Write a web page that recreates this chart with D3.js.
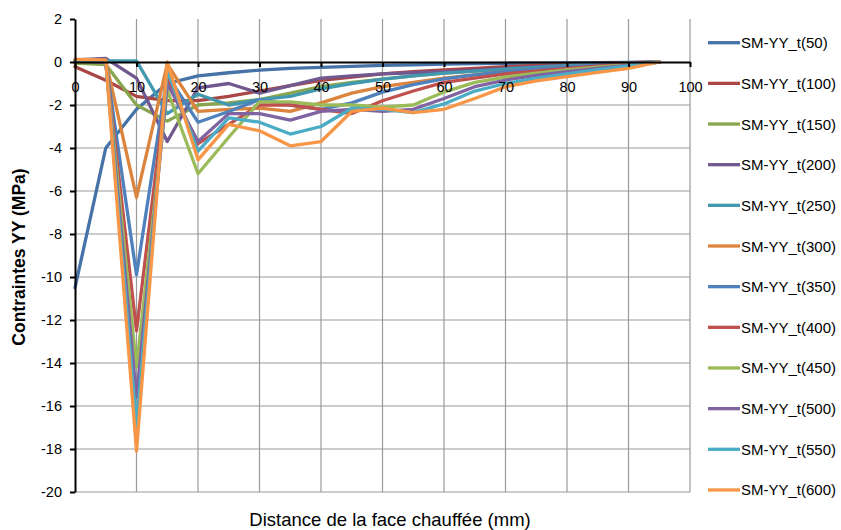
<!DOCTYPE html>
<html><head><meta charset="utf-8">
<script src="https://cdn.jsdelivr.net/npm/d3@7"></script>
<style>body{margin:0;background:#fff}svg{display:block}text{font-family:"Liberation Sans",Arial,sans-serif}</style>
</head><body><svg id="c" width="841" height="530"></svg>
<script>
const distances = [0,5,10,15,20,25,30,35,40,45,50,55,60,65,70,75,80,85,90,95];
const seriesNames = ["SM-YY_t(50)","SM-YY_t(100)","SM-YY_t(150)","SM-YY_t(200)","SM-YY_t(250)","SM-YY_t(300)","SM-YY_t(350)","SM-YY_t(400)","SM-YY_t(450)","SM-YY_t(500)","SM-YY_t(550)","SM-YY_t(600)"];
const t50  = [-10.5,-4.0,-2.2,-1.0,-0.65,-0.5,-0.38,-0.3,-0.25,-0.2,-0.16,-0.13,-0.1,-0.08,-0.06,-0.05,-0.04,-0.03,-0.02,0];
const t100 = [-0.22,-0.85,-1.6,-1.8,-1.8,-1.6,-1.35,-1.1,-0.85,-0.7,-0.55,-0.45,-0.37,-0.3,-0.22,-0.16,-0.11,-0.07,-0.03,0];
const t150 = [-0.05,-0.12,-2.0,-2.75,-2.0,-1.9,-1.75,-1.45,-1.15,-0.95,-0.8,-0.65,-0.52,-0.42,-0.32,-0.24,-0.16,-0.1,-0.05,0];
const t200 = [0.1,0.17,-0.75,-3.7,-1.2,-1.0,-1.45,-1.1,-0.75,-0.65,-0.55,-0.5,-0.45,-0.38,-0.3,-0.22,-0.15,-0.1,-0.05,0];
const t250 = [0.08,0.05,0.05,-2.4,-1.5,-2.0,-1.75,-1.6,-1.25,-1.0,-0.8,-0.65,-0.52,-0.42,-0.33,-0.25,-0.17,-0.1,-0.05,0];
const t300 = [0.05,0.05,-6.3,-0.1,-2.3,-2.2,-2.15,-2.3,-1.9,-1.45,-1.15,-0.95,-0.75,-0.6,-0.45,-0.34,-0.24,-0.15,-0.07,0];
const t350 = [0.05,0.0,-9.9,-0.6,-2.8,-2.3,-1.75,-2.0,-2.2,-1.9,-1.4,-1.05,-0.78,-0.6,-0.45,-0.33,-0.23,-0.14,-0.07,0];
const t400 = [0.05,0.0,-12.5,-0.8,-3.8,-2.9,-2.0,-2.0,-2.2,-2.4,-1.8,-1.35,-0.95,-0.75,-0.55,-0.42,-0.3,-0.19,-0.09,0];
const t450 = [0.05,0.0,-14.2,-1.3,-5.2,-3.5,-1.85,-1.85,-2.0,-2.0,-2.1,-2.0,-1.4,-0.95,-0.7,-0.52,-0.37,-0.24,-0.12,0];
const t500 = [0.05,0.0,-15.6,-1.0,-3.7,-2.4,-2.4,-2.7,-2.3,-2.2,-2.3,-2.2,-1.7,-1.15,-0.84,-0.62,-0.45,-0.3,-0.15,0];
const t550 = [0.08,0.05,-16.9,-0.4,-4.15,-2.6,-2.8,-3.35,-3.0,-2.15,-2.2,-2.35,-1.95,-1.35,-1.0,-0.75,-0.55,-0.36,-0.18,0];
const t600 = [0.12,0.1,-18.1,0.0,-4.55,-2.9,-3.2,-3.9,-3.7,-2.3,-2.15,-2.35,-2.2,-1.7,-1.15,-0.88,-0.68,-0.48,-0.3,0];
const seriesValues = [t50,t100,t150,t200,t250,t300,t350,t400,t450,t500,t550,t600];
const colors = ["#4572A7","#AA4643","#89A54E","#71588F","#4198AF","#DB843D","#4F81BD","#C0504D","#9BBB59","#8064A2","#4BACC6","#F79646"];
const xTicks = [0,10,20,30,40,50,60,70,80,90,100];
const yTicks = [2,0,-2,-4,-6,-8,-10,-12,-14,-16,-18,-20];

const svg = d3.select("#c");
const x = d3.scaleLinear().domain([0,100]).range([75,690]);
const y = d3.scaleLinear().domain([-20,2]).range([492,19]);

// gridlines
svg.append("g").selectAll("line").data(yTicks.filter(d=>d!==0 && d!==2)).join("line")
  .attr("x1",x(0)).attr("x2",x(100)).attr("y1",d=>y(d)).attr("y2",d=>y(d))
  .attr("stroke","#9a9a9a").attr("stroke-width",1.2);
svg.append("g").selectAll("line").data(xTicks.filter(d=>d!==0)).join("line")
  .attr("x1",d=>x(d)).attr("x2",d=>x(d)).attr("y1",y(2)).attr("y2",y(-20))
  .attr("stroke","#9a9a9a").attr("stroke-width",1.2);

// series
const line = d3.line().x((d,i)=>x(distances[i])).y(d=>y(d));
svg.append("g").selectAll("path").data(seriesValues).join("path")
  .attr("d",d=>line(d)).attr("fill","none")
  .attr("stroke",(d,i)=>colors[i]).attr("stroke-width",3.3)
  .attr("stroke-linejoin","round").attr("stroke-linecap","round");

// axes
const fmt = d => String(d);
const yAxis = svg.append("g").attr("transform",`translate(${x(0)},0)`)
  .call(d3.axisLeft(y).tickValues(yTicks).tickFormat(fmt).tickSize(5).tickPadding(8).tickSizeOuter(0));
const xAxis = svg.append("g").attr("transform",`translate(0,${y(0)})`)
  .call(d3.axisBottom(x).tickValues(xTicks).tickFormat(fmt).tickSize(5).tickPadding(15).tickSizeOuter(0));
[yAxis,xAxis].forEach(g=>{
  g.select(".domain").attr("stroke","#000").attr("stroke-width",2);
  g.selectAll(".tick line").attr("stroke","#000").attr("stroke-width",2);
  g.selectAll("text").attr("font-size",14.5).attr("fill","#000").attr("font-family","'Liberation Sans',Arial,sans-serif");
});

// titles
svg.append("text").attr("x",390).attr("y",526).attr("text-anchor","middle")
  .attr("font-size",18.5).attr("fill","#000").text("Distance de la face chauffée (mm)");
svg.append("text").attr("transform","translate(25,257) rotate(-90)").attr("text-anchor","middle")
  .attr("font-size",17.5).attr("font-weight","bold").attr("fill","#000").text("Contraintes YY (MPa)");

// legend
const lg = svg.append("g").selectAll("g").data(seriesNames).join("g")
  .attr("transform",(d,i)=>`translate(708,${42.7+i*40.66})`);
lg.append("line").attr("x1",0).attr("x2",32).attr("y1",0).attr("y2",0)
  .attr("stroke",(d,i)=>colors[i]).attr("stroke-width",3.3);
lg.append("text").attr("x",33).attr("y",5.5).attr("font-size",15).attr("fill","#000").text(d=>d);
</script></body></html>
